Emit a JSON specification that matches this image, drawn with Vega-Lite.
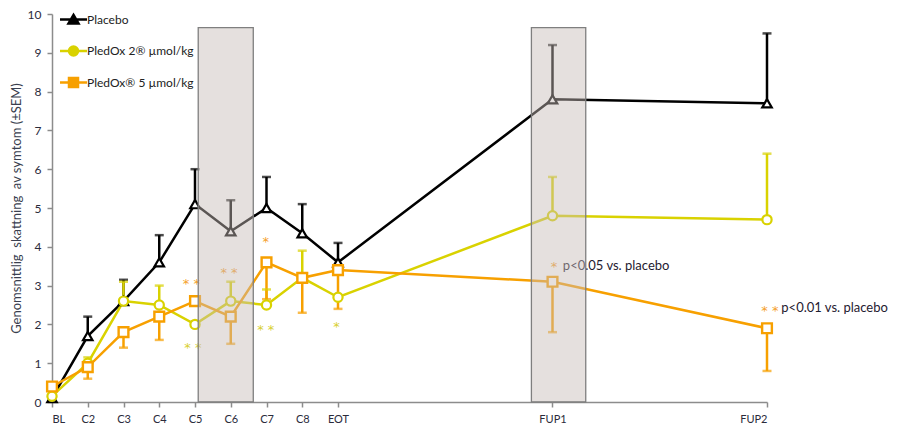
{
  "$schema": "https://vega.github.io/schema/vega-lite/v6.json",
  "width": 715,
  "height": 388,
  "autosize": "none",
  "padding": {"left": 52, "top": 14, "right": 131, "bottom": 32},
  "background": "white",
  "config": {
    "view": {"stroke": null},
    "font": "Lato",
    "legend": {
      "orient": "none",
      "legendX": 1,
      "legendY": -1,
      "padding": 0,
      "rowPadding": 12.5,
      "symbolOffset": 14,
      "labelOffset": 7,
      "symbolSize": 100,
      "symbolStrokeWidth": 2.5,
      "symbolOpacity": 1,
      "labelFontSize": 12,
      "labelColor": "#222222",
      "labelFont": "Lato"
    }
  },
  "datasets": {
    "series": [
      {"s": "Placebo", "x": 0, "y": 0.1, "lo": 0.1, "hi": 0.1},
      {"s": "Placebo", "x": 1, "y": 1.7, "lo": 1.7, "hi": 2.2},
      {"s": "Placebo", "x": 2, "y": 2.6, "lo": 2.6, "hi": 3.15},
      {"s": "Placebo", "x": 3, "y": 3.6, "lo": 3.6, "hi": 4.3},
      {"s": "Placebo", "x": 4, "y": 5.1, "lo": 5.1, "hi": 6.0},
      {"s": "Placebo", "x": 5, "y": 4.4, "lo": 4.4, "hi": 5.2},
      {"s": "Placebo", "x": 6, "y": 5.0, "lo": 5.0, "hi": 5.8},
      {"s": "Placebo", "x": 7, "y": 4.35, "lo": 4.35, "hi": 5.1},
      {"s": "Placebo", "x": 8, "y": 3.6, "lo": 3.6, "hi": 4.1},
      {"s": "Placebo", "x": 14, "y": 7.8, "lo": 7.8, "hi": 9.2},
      {"s": "Placebo", "x": 20, "y": 7.7, "lo": 7.7, "hi": 9.5},
      {"s": "PledOx 2® µmol/kg", "x": 0, "y": 0.15, "lo": 0.15, "hi": 0.15},
      {"s": "PledOx 2® µmol/kg", "x": 1, "y": 1.0, "lo": 1.0, "hi": 1.15},
      {"s": "PledOx 2® µmol/kg", "x": 2, "y": 2.6, "lo": 2.6, "hi": 3.1},
      {"s": "PledOx 2® µmol/kg", "x": 3, "y": 2.5, "lo": 2.5, "hi": 3.0},
      {"s": "PledOx 2® µmol/kg", "x": 4, "y": 2.0, "lo": 2.0, "hi": 2.0},
      {"s": "PledOx 2® µmol/kg", "x": 5, "y": 2.6, "lo": 2.6, "hi": 3.1},
      {"s": "PledOx 2® µmol/kg", "x": 6, "y": 2.5, "lo": 2.5, "hi": 2.9},
      {"s": "PledOx 2® µmol/kg", "x": 7, "y": 3.2, "lo": 3.2, "hi": 3.9},
      {"s": "PledOx 2® µmol/kg", "x": 8, "y": 2.7, "lo": 2.7, "hi": 2.7},
      {"s": "PledOx 2® µmol/kg", "x": 14, "y": 4.8, "lo": 4.8, "hi": 5.8},
      {"s": "PledOx 2® µmol/kg", "x": 20, "y": 4.7, "lo": 4.7, "hi": 6.4},
      {"s": "PledOx® 5 µmol/kg", "x": 0, "y": 0.4, "lo": 0.4, "hi": 0.4},
      {"s": "PledOx® 5 µmol/kg", "x": 1, "y": 0.9, "lo": 0.6, "hi": 0.9},
      {"s": "PledOx® 5 µmol/kg", "x": 2, "y": 1.8, "lo": 1.4, "hi": 1.8},
      {"s": "PledOx® 5 µmol/kg", "x": 3, "y": 2.2, "lo": 1.6, "hi": 2.2},
      {"s": "PledOx® 5 µmol/kg", "x": 4, "y": 2.6, "lo": 2.6, "hi": 2.6},
      {"s": "PledOx® 5 µmol/kg", "x": 5, "y": 2.2, "lo": 1.5, "hi": 2.2},
      {"s": "PledOx® 5 µmol/kg", "x": 6, "y": 3.6, "lo": 2.65, "hi": 3.6},
      {"s": "PledOx® 5 µmol/kg", "x": 7, "y": 3.2, "lo": 2.3, "hi": 3.2},
      {"s": "PledOx® 5 µmol/kg", "x": 8, "y": 3.4, "lo": 2.4, "hi": 3.4},
      {"s": "PledOx® 5 µmol/kg", "x": 14, "y": 3.1, "lo": 1.8, "hi": 3.1},
      {"s": "PledOx® 5 µmol/kg", "x": 20, "y": 1.9, "lo": 0.8, "hi": 1.9}
    ],
    "stars": [
      {"t": "* *", "x": 3.9, "y": 3.12, "c": "o"},
      {"t": "* *", "x": 3.94, "y": 1.46, "c": "y"},
      {"t": "* *", "x": 4.95, "y": 3.39, "c": "o"},
      {"t": "*", "x": 5.98, "y": 4.21, "c": "o"},
      {"t": "* *", "x": 5.98, "y": 1.93, "c": "y"},
      {"t": "*", "x": 7.96, "y": 2.02, "c": "y"},
      {"t": "*", "x": 14.04, "y": 3.55, "c": "o"},
      {"t": "* *", "x": 20.08, "y": 2.41, "c": "o"}
    ],
    "notes": [
      {"t": "p<0.05 vs. placebo", "x": 14.29, "y": 3.5},
      {"t": "p<0.01 vs. placebo", "x": 20.4, "y": 2.41}
    ],
    "bands": [
      {"x": 4.09, "x2": 5.63, "y": 0, "y2": 9.65},
      {"x": 13.41, "x2": 14.93, "y": 0, "y2": 9.65}
    ]
  },
  "encoding": {
    "x": {
      "field": "x", "type": "quantitative", "title": null,
      "scale": {"domain": [0, 20], "nice": false, "zero": false},
      "axis": {
        "title": null,
        "values": [0, 1, 2, 3, 4, 5, 6, 7, 8, 14, 20],
        "labelExpr": "datum.value == 0 ? 'BL' : datum.value < 8 ? 'C' + (datum.value + 1) : datum.value == 8 ? 'EOT' : datum.value == 14 ? 'FUP1' : 'FUP2'",
        "grid": false,
        "domainColor": "#8c8c8c",
        "domainWidth": 1.5,
        "tickColor": "#8c8c8c",
        "tickWidth": 1.5,
        "tickSize": 5,
        "labelFontSize": 11,
        "labelColor": "#2b2b3b",
        "labelPadding": 6,
        "labelFont": "Lato"
      }
    },
    "y": {
      "field": "y", "type": "quantitative", "title": "Genomsnittlig\u00a0 skattning\u00a0 av symtom (±SEM)",
      "scale": {"domain": [0, 10], "nice": false},
      "axis": {
        "title": "Genomsnittlig\u00a0 skattning\u00a0 av symtom (±SEM)",
        "values": [0, 1, 2, 3, 4, 5, 6, 7, 8, 9, 10],
        "grid": false,
        "domainColor": "#8c8c8c",
        "domainWidth": 1.5,
        "tickColor": "#8c8c8c",
        "tickWidth": 1.5,
        "tickSize": 5,
        "labelFontSize": 12,
        "labelColor": "#2b2b3b",
        "labelPadding": 6,
        "labelFont": "Lato",
        "titleFont": "Lato",
        "titleFontSize": 13,
        "titleFontWeight": "normal",
        "titleColor": "#3a3f4f",
        "titlePadding": 4
      }
    }
  },
  "layer": [
    {
      "data": {"name": "series"},
      "transform": [{"filter": "datum.hi > datum.y"}],
      "mark": {"type": "rule", "strokeWidth": 2.5},
      "encoding": {
        "y2": {"field": "hi"},
        "color": {
          "field": "s", "type": "nominal",
          "scale": {"domain": ["Placebo", "PledOx 2® µmol/kg", "PledOx® 5 µmol/kg"], "range": ["#000000", "#d9d200", "#f7a000"]},
          "legend": null
        }
      }
    },
    {
      "data": {"name": "series"},
      "transform": [{"filter": "datum.lo < datum.y"}],
      "mark": {"type": "rule", "strokeWidth": 2.5},
      "encoding": {
        "y2": {"field": "lo"},
        "color": {"field": "s", "type": "nominal", "legend": null}
      }
    },
    {
      "data": {"name": "series"},
      "transform": [{"filter": "datum.hi > datum.y"}, {"fold": ["hi"], "as": ["end", "y"]}],
      "mark": {"type": "tick", "orient": "horizontal", "size": 9, "thickness": 2.5},
      "encoding": {
        "color": {"field": "s", "type": "nominal", "legend": null}
      }
    },
    {
      "data": {"name": "series"},
      "transform": [{"filter": "datum.lo < datum.y"}, {"fold": ["lo"], "as": ["end", "y"]}],
      "mark": {"type": "tick", "orient": "horizontal", "size": 9, "thickness": 2.5},
      "encoding": {
        "color": {"field": "s", "type": "nominal", "legend": null}
      }
    },
    {
      "data": {"name": "series"},
      "mark": {"type": "line", "strokeWidth": 2.5},
      "encoding": {
        "color": {"field": "s", "type": "nominal", "legend": null}
      }
    },
    {
      "data": {"name": "series"},
      "transform": [{"filter": "datum.s == 'Placebo'"}],
      "mark": {"type": "point", "shape": "triangle-up", "size": 90, "filled": false, "fill": "white", "fillOpacity": 1, "stroke": "#000000", "strokeWidth": 2.2, "opacity": 1},
      "encoding": {}
    },
    {
      "data": {"name": "series"},
      "transform": [{"filter": "datum.s == 'PledOx 2® µmol/kg'"}],
      "mark": {"type": "point", "shape": "circle", "size": 85, "filled": false, "fill": "white", "fillOpacity": 1, "stroke": "#d9d200", "strokeWidth": 2.2, "opacity": 1},
      "encoding": {}
    },
    {
      "data": {"name": "series"},
      "transform": [{"filter": "datum.s == 'PledOx® 5 µmol/kg'"}],
      "mark": {"type": "point", "shape": "square", "size": 95, "filled": false, "fill": "white", "fillOpacity": 1, "stroke": "#f7a000", "strokeWidth": 2.4, "opacity": 1},
      "encoding": {}
    },
    {
      "data": {"name": "series"},
      "mark": {"type": "point", "filled": true, "opacity": 0},
      "encoding": {
        "fill": {
          "field": "s", "type": "nominal",
          "scale": {"range": ["#000000", "#d9d200", "#f7a000"]},
          "legend": {"title": null}
        },
        "stroke": {
          "field": "s", "type": "nominal",
          "scale": {"range": ["#000000", "#d9d200", "#f7a000"]},
          "legend": {"title": null}
        },
        "shape": {
          "field": "s", "type": "nominal",
          "scale": {
            "range": [
              "M-2.7,0H2.7M0,-0.9L1,0.8H-1Z",
              "M-2.7,0H2.7M0.9,0A0.9,0.9 0 1,1 -0.9,0A0.9,0.9 0 1,1 0.9,0Z",
              "M-2.7,0H2.7M-0.9,-0.9H0.9V0.9H-0.9Z"
            ]
          },
          "legend": {"title": null}
        }
      }
    },
    {
      "data": {"name": "stars"},
      "transform": [{"filter": "datum.c == 'o'"}],
      "mark": {"type": "text", "fontSize": 13, "align": "center", "baseline": "middle", "dy": 3, "font": "DejaVu Sans", "color": "#f5a02a"},
      "encoding": {"text": {"field": "t"}}
    },
    {
      "data": {"name": "stars"},
      "transform": [{"filter": "datum.c == 'y'"}],
      "mark": {"type": "text", "fontSize": 13, "align": "center", "baseline": "middle", "dy": 3, "font": "DejaVu Sans", "color": "#d8cf30"},
      "encoding": {"text": {"field": "t"}}
    },
    {
      "data": {"name": "notes"},
      "mark": {"type": "text", "fontSize": 13, "align": "left", "baseline": "middle", "color": "#1f2030", "font": "Lato"},
      "encoding": {"text": {"field": "t"}}
    },
    {
      "data": {"name": "bands"},
      "mark": {"type": "rect", "fill": "#c6bbb7", "fillOpacity": 0.46, "stroke": "#7f7f7f", "strokeWidth": 1.3, "strokeOpacity": 1},
      "encoding": {
        "x2": {"field": "x2"},
        "y2": {"field": "y2"}
      }
    }
  ]
}
